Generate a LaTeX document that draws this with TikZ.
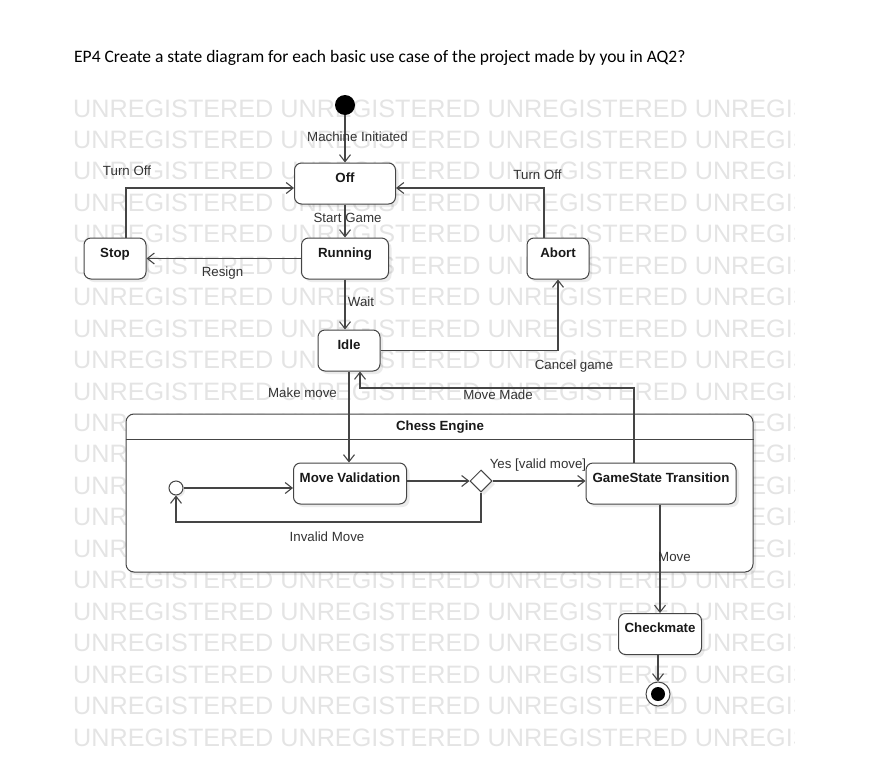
\documentclass[tikz,border=0pt]{standalone}
\usepackage{fontspec}
\setmainfont{Liberation Sans}
\newfontfamily\titlefont{Carlito}
\usetikzlibrary{calc,arrows.meta,shapes.geometric,shadows}
\definecolor{linegray}{HTML}{454545}
\definecolor{wmgray}{HTML}{E4E4E4}
\def\drawtrans{\draw[trans]}
\tikzset{
  trans/.style={draw=linegray, line width=1.1pt, -{Straight Barb[length=7pt,width=11pt]}},
  statebox/.style={draw=linegray, line width=1pt, fill=white, rounded corners=7pt,
    font=\fontsize{13.3}{16}\selectfont\bfseries, text=black!90,
    inner xsep=0pt, inner ysep=3pt, text height=16pt, text depth=19pt,
    minimum width=#1, drop shadow={shadow xshift=3pt, shadow yshift=-3pt, fill=black, opacity=0.08}},
  statebox/.default=62,
  lbl/.style={font=\fontsize{13.3}{16}\selectfont, text=black!80, inner sep=0pt},
  wm/.style={font=\fontsize{25.2}{30}\selectfont, text=wmgray, inner sep=0pt, anchor=base west},
}

\begin{document}
\begin{tikzpicture}[x=1pt,y=-1pt]
\useasboundingbox (0,0) rectangle (880,779);

\node[anchor=base west, inner sep=0pt, font=\titlefont\fontsize{17.5}{21}\selectfont] (title) at (74,62.5)
  {EP4 Create a state diagram for each basic use case of the project made by you in AQ2?};

% watermark rows behind everything
\begin{scope}
\clip (0,0) rectangle (794,779);
\foreach \i in {0,...,20}
  \node[wm] (wm\i) at (73,{117+31.45*\i}) {UNREGISTERED UNREGISTERED UNREGISTERED UNREGISTERED};
\end{scope}

% composite state
\node[draw=linegray, line width=1pt, fill=white, rounded corners=8pt, minimum width=627, minimum height=158,
  drop shadow={shadow xshift=3pt, shadow yshift=-3pt, fill=black, opacity=0.08}] (engine) at (439.5,493) {};
\draw[draw=linegray, line width=1pt] ([yshift=-26pt]engine.north west) -- ([yshift=-26pt]engine.north east);
\node[lbl, font=\fontsize{13.3}{16}\selectfont\bfseries, text=black!90] (enginetitle) at (440,427) {Chess Engine};

% states
\node[circle, fill=black, minimum size=20pt, inner sep=0pt] (init) at (345,105) {};
\node[statebox=101] (off) at (345,183.5) {Off};
\node[statebox=87] (running) at (345,258.5) {Running};
\node[statebox] (stop) at (115,258.5) {Stop};
\node[statebox] (abort) at (558,258.5) {Abort};
\node[statebox] (idle) at (349,350.5) {Idle};
\node[statebox=113] (mv) at (350,483.5) {Move Validation};
\node[statebox=150] (gst) at (661,483.5) {GameState Transition};
\node[statebox=83] (chk) at (660,634) {Checkmate};
\node[circle, draw=linegray, line width=1pt, fill=white, minimum size=14pt, inner sep=0pt,
  drop shadow={shadow xshift=2pt, shadow yshift=-2pt, fill=black, opacity=0.08}] (init2) at (176,488) {};
\node[diamond, draw=linegray, line width=1pt, fill=white, minimum width=22pt, minimum height=22pt, inner sep=0pt,
  drop shadow={shadow xshift=3pt, shadow yshift=-3pt, fill=black, opacity=0.08}] (dec) at (481,481) {};
\node[circle, draw=linegray, line width=1pt, fill=white, minimum size=24pt, inner sep=0pt,
  path picture={\fill[black] (path picture bounding box.center) circle (7pt);},
  drop shadow={shadow xshift=3pt, shadow yshift=-3pt, fill=black, opacity=0.08}] (fin) at (658,694) {};

\coordinate (mmbend) at (360,388);
\coordinate (invbot) at (176,522);

% transitions
\drawtrans (init) -- (off);
\drawtrans (off) -- (running);
\drawtrans (running) -- (stop);
\drawtrans ([xshift=11pt]stop.north) |- ([yshift=-4.5pt]off.west);
\drawtrans ([xshift=-14pt]abort.north) |- ([yshift=-4.5pt]off.east);
\drawtrans (running.south) -- (running.south |- idle.north);
\drawtrans (idle.east) -| (abort.south);
\drawtrans (idle.south) -- (idle.south |- mv.north);
\drawtrans ([xshift=-27pt]gst.north) |- (mmbend) -- (mmbend |- idle.south);

% inside the engine
\drawtrans (init2) -- (init2 -| mv.west);
\drawtrans (mv.east |- dec) -- (dec);
\drawtrans (dec) -- (dec -| gst.west);
\drawtrans (dec.south) -- (dec.south |- invbot) -| (init2.south);
\drawtrans (gst.south -| chk) -- (chk.north);
\drawtrans (chk.south -| fin) -- (fin.north);

% labels
\node[lbl] (lmachine) at (357.5,137) {Machine Initiated};
\node[lbl] (lstart) at (347.5,218) {Start Game};
\node[lbl] (lturnl) at (127,171) {Turn Off};
\node[lbl] (lturnr) at (537.5,175) {Turn Off};
\node[lbl] (lresign) at (222.5,273) {Resign};
\node[lbl] (lwait) at (361,302) {Wait};
\node[lbl] (lmake) at (302.5,393) {Make move};
\node[lbl] (lmade) at (498,395) {Move Made};
\node[lbl] (lcancel) at (574,366) {Cancel game};
\node[lbl] (lyes) at (538,465) {Yes [valid move]};
\node[lbl] (linvalid) at (327,537) {Invalid Move};
\node[lbl, anchor=west] (lmove) at (658,557) {Move};
\end{tikzpicture}
\end{document}
